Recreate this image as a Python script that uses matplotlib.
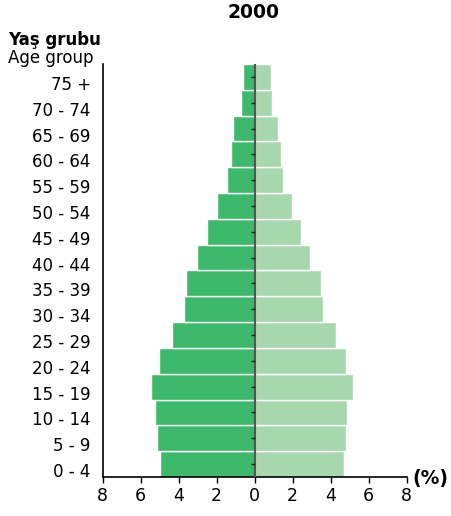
"""Population pyramid, 2000."""
import matplotlib
matplotlib.use("Agg")
import matplotlib.pyplot as plt
import matplotlib.transforms as mtransforms
import numpy as np

age_groups = ["0 - 4", "5 - 9", "10 - 14", "15 - 19", "20 - 24", "25 - 29",
              "30 - 34", "35 - 39", "40 - 44", "45 - 49", "50 - 54", "55 - 59",
              "60 - 64", "65 - 69", "70 - 74", "75 +"]
left_pct = [4.98, 5.13, 5.25, 5.44, 5.04, 4.37, 3.74, 3.60,
            3.05, 2.53, 1.98, 1.46, 1.25, 1.14, 0.74, 0.62]
right_pct = [4.70, 4.81, 4.86, 5.16, 4.81, 4.28, 3.60, 3.51,
             2.91, 2.44, 1.98, 1.51, 1.38, 1.23, 0.93, 0.86]
x_ticks = [-8, -6, -4, -2, 0, 2, 4, 6, 8]
x_labels = ["8", "6", "4", "2", "0", "2", "4", "6", "8"]

fig = plt.figure(figsize=(4.52, 5.16), dpi=100)
ax = fig.add_axes([0.227, 0.0756, 0.673, 0.8004])

y = np.arange(len(age_groups))
ax.barh(y, -np.array(left_pct), height=1.0, color="#3db96b",
        edgecolor="white", linewidth=1.0)
ax.barh(y, right_pct, height=1.0, color="#a7d7ad",
        edgecolor="white", linewidth=1.0)

# centre line with small ticks
ax.axvline(0, color="#555555", lw=1.6, zorder=3)
ax.plot(np.zeros(len(y)), y, ls="none", marker=0, ms=3, color="#222222",
        mew=1.0, zorder=4)

ax.set_xlim(-8, 8)
ax.set_ylim(-0.5, len(age_groups) - 0.5)
ax.set_xticks(x_ticks)
ax.set_xticklabels(x_labels, fontsize=12.5)
ax.set_yticks(y)
ax.set_yticklabels(age_groups, fontsize=12)
ax.tick_params(axis="x", length=4, width=1, pad=3)
ax.tick_params(axis="y", length=0, pad=8.5)
# labels sit a little below the bar centres in the original
shift = mtransforms.ScaledTranslation(0, -0.06, fig.dpi_scale_trans)
for lab in ax.get_yticklabels():
    lab.set_transform(lab.get_transform() + shift)
for s in ["top", "right"]:
    ax.spines[s].set_visible(False)
ax.spines["left"].set_linewidth(1.2)
ax.spines["bottom"].set_linewidth(1.2)

fig.text(0.56, 0.975, "2000", ha="center", va="center",
         fontsize=13.5, fontweight="bold")
fig.text(0.018, 0.922, "Yaş grubu", ha="left", va="center",
         fontsize=12, fontweight="bold")
fig.text(0.018, 0.887, "Age group", ha="left", va="center", fontsize=12)
fig.text(0.912, 0.073, "(%)", ha="left", va="center",
         fontsize=13.5, fontweight="bold")

fig.savefig("out.png", dpi=100)
